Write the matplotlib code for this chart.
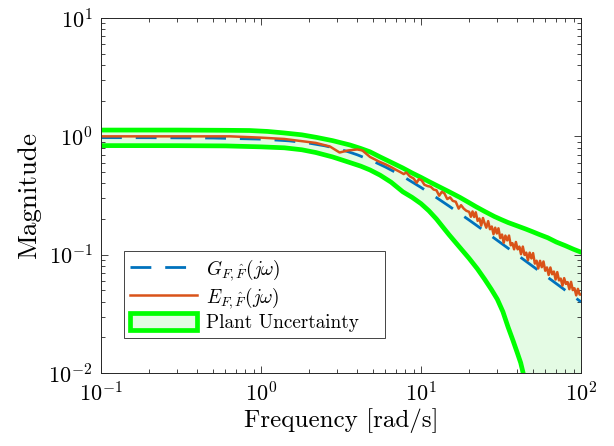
import matplotlib
matplotlib.use("Agg")
from matplotlib import pyplot as plt
from matplotlib.patches import Patch

plt.rcParams["font.family"] = "serif"
plt.rcParams["font.serif"] = ["cmr10"]
plt.rcParams["mathtext.fontset"] = "cm"
plt.rcParams["axes.formatter.use_mathtext"] = True

# nominal model G
freq_g = [0.1, 0.2, 0.5, 1, 1.5, 2, 2.5, 3, 3.5, 4, 5, 6, 7, 8, 10, 12, 15,
          20, 25, 30, 40, 50, 60, 70, 80, 100]
mag_g = [0.975, 0.974, 0.968, 0.947, 0.916, 0.876, 0.832, 0.787, 0.742, 0.698,
         0.618, 0.550, 0.493, 0.445, 0.370, 0.315, 0.257, 0.196, 0.158, 0.132,
         0.0995, 0.0797, 0.0665, 0.0570, 0.0499, 0.0399]

# measured estimate E
freq_e = [0.1, 0.64, 1.0, 1.4, 2.2, 2.7, 3.1, 3.5, 4.0, 4.3, 4.8, 5.5, 6.0, 6.5,
          7.0, 7.4, 7.8, 8.1, 8.5, 9.0, 9.4, 9.7, 10.1, 10.5, 11.0, 11.5, 12.0,
          12.5, 13.0, 13.5, 14.0, 14.6, 15.2, 15.8, 16.5, 17.2, 17.8, 18.5,
          19.2, 20, 20.5, 21, 21.5, 22, 22.6, 23.2, 23.8, 24.4, 25, 25.6, 26.3,
          27, 27.7, 28.4, 29.1, 29.8, 30.5, 31.3, 32.1, 32.9, 33.7, 34.6, 35.5,
          36.4, 37.3, 38.2, 39.2, 40.2, 41.2, 42.2, 43.3, 44.4, 45.5, 46.6,
          47.8, 49, 50.2, 51.5, 52.8, 54.1, 55.5, 56.9, 58.3, 59.8, 61.3, 62.8,
          64.4, 66, 67.7, 69.4, 71.1, 72.9, 74.7, 76.6, 78.5, 80.5, 82.5, 84.6,
          86.7, 88.9, 91.1, 93.4, 95.7, 98.1, 100]
mag_e = [1.0, 1.0, 0.975, 0.95, 0.88, 0.82, 0.73, 0.76, 0.775, 0.76, 0.67, 0.61,
         0.58, 0.55, 0.52, 0.50, 0.48, 0.495, 0.46, 0.44, 0.405, 0.435, 0.425,
         0.39, 0.38, 0.375, 0.355, 0.35, 0.315, 0.34, 0.33, 0.295, 0.305, 0.285,
         0.28, 0.245, 0.262, 0.245, 0.235,
         0.230, 0.209, 0.232, 0.208, 0.228, 0.193, 0.202, 0.176, 0.204, 0.184,
         0.169, 0.192, 0.164, 0.173, 0.149, 0.169, 0.151, 0.167, 0.138, 0.148,
         0.126, 0.145, 0.132, 0.145, 0.120, 0.125, 0.111, 0.128, 0.111, 0.117,
         0.101, 0.117, 0.0995, 0.104, 0.0898, 0.104, 0.0929, 0.103, 0.0840,
         0.0889, 0.0765, 0.0887, 0.0784, 0.0876, 0.0731, 0.0780, 0.0674,
         0.0779, 0.0683, 0.0720, 0.0616, 0.0712, 0.0606, 0.0628, 0.0547,
         0.0633, 0.0566, 0.0586, 0.0511, 0.0589, 0.0502, 0.0520, 0.0453,
         0.0514, 0.0460, 0.046]

# uncertainty bounds
freq_up = [0.1, 0.3, 0.6, 0.85, 1.1, 1.38, 1.8, 2.22, 2.8, 3.6, 4.2, 4.8, 5.55,
           6.5, 7.7, 8.8, 10, 11.2, 12.5, 15, 17.5, 20, 22, 25, 28.8, 32, 35,
           40, 45, 50, 55, 62, 70, 80, 90, 100]
upper_b = [1.13, 1.13, 1.125, 1.12, 1.10, 1.07, 1.03, 0.98, 0.92, 0.845, 0.79,
           0.74, 0.67, 0.604, 0.54, 0.49, 0.45, 0.415, 0.385, 0.34, 0.305,
           0.275, 0.255, 0.232, 0.21, 0.197, 0.187, 0.175, 0.165, 0.156, 0.148,
           0.139, 0.128, 0.119, 0.111, 0.105]
freq_lo = [0.1, 0.3, 0.6, 1.0, 1.4, 1.8, 2.2, 2.8, 3.6, 4.2, 4.8, 5.55, 6.5,
           7.7, 8.8, 10, 11.2, 12.5, 14, 15, 17.5, 20, 22.5, 25, 27.5, 30,
           32.5, 35, 37.5, 40, 42, 43.5, 45, 47, 50, 70, 100]
lower_b = [0.835, 0.834, 0.83, 0.815, 0.80, 0.77, 0.73, 0.67, 0.60, 0.56, 0.52,
           0.47, 0.41, 0.34, 0.305, 0.27, 0.235, 0.20, 0.165, 0.147, 0.115,
           0.093, 0.076, 0.062, 0.051, 0.042, 0.033, 0.0245, 0.019, 0.0148,
           0.0122, 0.01, 0.0078, 0.0045, 0.001, 0.0002, 0.0001]

lower_on_up = [0.835, 0.834, 0.83, 0.825, 0.81, 0.80, 0.77, 0.73, 0.68, 0.60,
               0.56, 0.52, 0.47, 0.41, 0.34, 0.305, 0.27, 0.235, 0.20, 0.147,
               0.115, 0.093, 0.079, 0.062, 0.045, 0.033, 0.0245, 0.0148,
               0.0075, 0.001, 0.0005, 0.0003, 0.0002, 0.0002, 0.0001, 0.0001]

fig = plt.figure(figsize=(6.14, 4.46), dpi=100)
ax = fig.add_axes([0.1645, 0.1637, 0.7817, 0.7959])

ax.fill_between(freq_up, lower_on_up, upper_b, color="#e4fbe4", lw=0)
ax.plot(freq_up, upper_b, color="#00ff00", lw=3.4)
ax.plot(freq_lo, lower_b, color="#00ff00", lw=3.4)
ax.plot(freq_g, mag_g, color="#0072bd", lw=2.0, ls=(0, (7.5, 5)))
ax.plot(freq_e, mag_e, color="#d95319", lw=1.8)

ax.set_xscale("log")
ax.set_yscale("log")
ax.set_xlim(0.1, 100)
ax.set_ylim(0.01, 10)
ax.set_xlabel("Frequency [rad/s]", fontsize=18, labelpad=2)
ax.set_ylabel("Magnitude", fontsize=19.5, labelpad=5)
ax.tick_params(which="both", direction="in", top=True, right=True,
               labelsize=16, width=0.6, color="#262626")
ax.tick_params(which="major", length=5)
ax.tick_params(which="minor", length=3)
ax.tick_params(axis="x", which="major", pad=6)
ax.tick_params(axis="y", which="major", pad=6)
for s in ax.spines.values():
    s.set_linewidth(0.7)
    s.set_color("#262626")

handles = [
    plt.Line2D([], [], color="#0072bd", lw=2.0, ls=(0, (7.5, 5))),
    plt.Line2D([], [], color="#d95319", lw=1.8),
    Patch(facecolor="#e4fbe4", edgecolor="#00ff00", lw=3.4),
]
labels = [r"$G_{F,\hat{F}}(j\omega)$", r"$E_{F,\hat{F}}(j\omega)$",
          "Plant Uncertainty"]
leg = ax.legend(handles, labels, loc="lower left",
                bbox_to_anchor=(0.048, 0.099, 0.544, 0.2), mode="expand",
                borderaxespad=0, fontsize=13.8, handlelength=3.5,
                handleheight=1.0, fancybox=False, framealpha=1,
                edgecolor="#262626", labelspacing=0.12, handletextpad=0.5,
                borderpad=0.3)
leg.get_frame().set_linewidth(0.6)

plt.savefig("out.png")
